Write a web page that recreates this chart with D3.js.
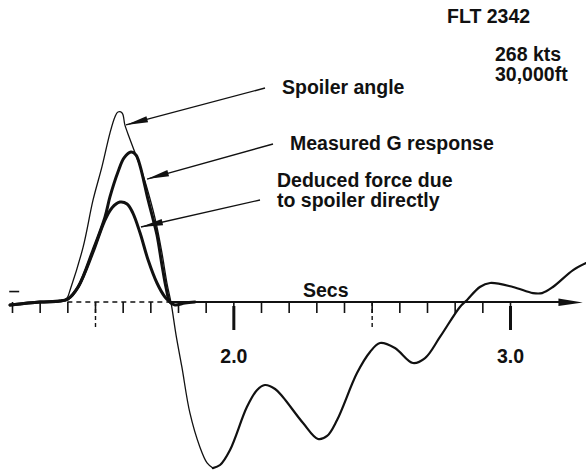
<!DOCTYPE html>
<html>
<head>
<meta charset="utf-8">
<script src="https://cdn.jsdelivr.net/npm/d3@7"></script>
<style>
  body { margin: 0; background: #fff; }
  svg { display: block; }
  .lbl { font-family: "Liberation Sans", Arial, Helvetica, sans-serif; font-weight: bold; font-size: 19.5px; fill: #111; }
</style>
</head>
<body>
<div id="chart"></div>
<script>
// time in secs, trace height normalised so spoiler peak = 1

// spoiler angle (thin trace) - rise, fall and the plunge to the first trough
const spoilerT = [1.193, 1.301, 1.381, 1.399, 1.410, 1.457, 1.493, 1.525, 1.554, 1.572, 1.583, 1.598, 1.608, 1.626, 1.645, 1.670, 1.695, 1.720, 1.742, 1.760, 1.775, 1.793, 1.814, 1.843, 1.879, 1.905, 1.926];
const spoilerV = [-0.016, 0.0, 0.005, 0.021, 0.063, 0.289, 0.537, 0.711, 0.889, 0.974, 1.0, 0.995, 0.932, 0.858, 0.784, 0.684, 0.563, 0.421, 0.258, 0.1, -0.005, -0.174, -0.342, -0.584, -0.763, -0.847, -0.874];

// the oscillation after the trough
const oscT = [1.926, 1.952, 1.988, 2.049, 2.086, 2.114, 2.151, 2.179, 2.252, 2.306, 2.339, 2.375, 2.447, 2.494, 2.530, 2.584, 2.649, 2.693, 2.747, 2.819, 2.845, 2.891, 2.928, 3.011, 3.083, 3.116, 3.155, 3.228, 3.275];
const oscV = [-0.874, -0.858, -0.779, -0.553, -0.463, -0.437, -0.458, -0.5, -0.637, -0.721, -0.705, -0.621, -0.374, -0.263, -0.216, -0.242, -0.321, -0.295, -0.184, -0.026, 0.011, 0.079, 0.1, 0.079, 0.047, 0.047, 0.079, 0.168, 0.205];

// measured G response (thick)
const measuredT = [1.193, 1.301, 1.373, 1.402, 1.439, 1.493, 1.536, 1.554, 1.583, 1.605, 1.630, 1.648, 1.663, 1.677, 1.692, 1.706, 1.724, 1.742, 1.757, 1.771, 1.789, 1.825, 1.861];
const measuredV = [-0.016, 0.0, 0.005, 0.016, 0.079, 0.274, 0.447, 0.553, 0.684, 0.758, 0.789, 0.774, 0.716, 0.632, 0.537, 0.458, 0.353, 0.195, 0.074, 0.0, -0.016, -0.005, 0.0];

// deduced force due to spoiler directly (thick)
const deducedT = [1.193, 1.301, 1.373, 1.402, 1.439, 1.493, 1.533, 1.561, 1.590, 1.616, 1.637, 1.663, 1.692, 1.724, 1.753, 1.771];
const deducedV = [-0.016, 0.0, 0.005, 0.016, 0.079, 0.263, 0.421, 0.495, 0.526, 0.516, 0.468, 0.363, 0.221, 0.1, 0.026, 0.0];

const minorTicks = [1.2, 1.3, 1.4, 1.5, 1.6, 1.7, 1.8, 1.9, 2.0, 2.1, 2.2, 2.3, 2.4, 2.5, 2.6, 2.7, 2.8, 2.9, 3.0];
const dashedTicks = [1.5, 2.5];
const majorTicks = [2.0, 3.0];
const axisLabel = "Secs";

const flightLines = ["FLT 2342"];
const conditionLines = ["268 kts", "30,000ft"];
const noteLines = [["Spoiler angle"], ["Measured G response"], ["Deduced force due", "to spoiler directly"]];
const noteTipT = [1.612, 1.688, 1.666];
const noteTipV = [0.932, 0.647, 0.395];

const width = 586, height = 474;

const svg = d3.select('#chart').append('svg')
  .attr('width', width)
  .attr('height', height);

svg.append('rect').attr('width', width).attr('height', height).attr('fill', '#fff');

const x = d3.scaleLinear().domain([1.2, 3.0]).range([12, 510]);
const y = d3.scaleLinear().domain([0, 1]).range([302, 112]);

const ink = '#111';

// axis line: dashed under the peaks, solid after, arrow at the end
svg.append('line')
  .attr('x1', x(1.40)).attr('x2', x(1.77))
  .attr('y1', y(0)).attr('y2', y(0))
  .attr('stroke', ink).attr('stroke-width', 1.5)
  .attr('stroke-dasharray', '5,4');
svg.append('line')
  .attr('x1', x(1.77)).attr('x2', x(3.2))
  .attr('y1', y(0)).attr('y2', y(0))
  .attr('stroke', ink).attr('stroke-width', 2);
svg.append('path')
  .attr('d', `M${x(3.263)},${y(0) + 0.5} L${x(3.175)},${y(0) - 3.5} L${x(3.175)},${y(0) + 4} Z`)
  .attr('fill', ink);

// small zero mark at far left
svg.append('line')
  .attr('x1', x(1.190)).attr('x2', x(1.226))
  .attr('y1', y(0.055)).attr('y2', y(0.055))
  .attr('stroke', ink).attr('stroke-width', 1.6);

// ticks
const minorAxis = d3.axisBottom(x).tickValues(minorTicks).tickSize(11).tickFormat('');
const gMinor = svg.append('g').attr('transform', `translate(0,${y(0)})`).call(minorAxis);
gMinor.select('.domain').remove();
gMinor.selectAll('.tick line').attr('stroke', ink).attr('stroke-width', 1.6);

const dashAxis = d3.axisBottom(x).tickValues(dashedTicks).tickSize(28).tickFormat('');
const gDash = svg.append('g').attr('transform', `translate(0,${y(0)})`).call(dashAxis);
gDash.select('.domain').remove();
gDash.selectAll('.tick line').attr('stroke', ink).attr('stroke-width', 1.4).attr('stroke-dasharray', '4,3');

const majorAxis = d3.axisBottom(x).tickValues(majorTicks).tickSize(28).tickPadding(19).tickFormat(d3.format('.1f'));
const gMajor = svg.append('g').attr('transform', `translate(0,${y(0)})`).call(majorAxis);
gMajor.select('.domain').remove();
gMajor.selectAll('.tick line').attr('stroke', ink).attr('stroke-width', 3).attr('y1', 4);
gMajor.selectAll('.tick text').attr('class', 'lbl').attr('fill', ink);

svg.append('text').attr('class', 'lbl').attr('x', 303).attr('y', 297).text(axisLabel);

// traces
const line = d3.line()
  .x(d => x(d[0]))
  .y(d => y(d[1]))
  .curve(d3.curveCatmullRom.alpha(0.5));

const zip = (ts, vs) => ts.map((t, i) => [t, vs[i]]);

const traces = [
  { data: zip(measuredT, measuredV), w: 3 },
  { data: zip(deducedT, deducedV), w: 3 },
  { data: zip(spoilerT, spoilerV), w: 1.3 },
  { data: zip(oscT, oscV), w: 2.2 }
];

svg.selectAll('path.trace')
  .data(traces)
  .enter()
  .append('path')
  .attr('class', 'trace')
  .attr('d', d => line(d.data))
  .attr('fill', 'none')
  .attr('stroke', ink)
  .attr('stroke-width', d => d.w)
  .attr('stroke-linejoin', 'round')
  .attr('stroke-linecap', 'round');

// header text
svg.append('text').attr('class', 'lbl').attr('x', 447).attr('y', 23).text(flightLines[0]);
conditionLines.forEach((s, i) => {
  svg.append('text').attr('class', 'lbl')
    .attr('x', 495)
    .attr('y', 61 + i * 20)
    .text(s);
});

// annotations with leader arrows
const notePos = [[282, 94], [290, 150], [277, 187]];
const noteFrom = [[265, 88], [273, 144], [260, 200]];

function arrowHead(x1, y1, x2, y2, len, half) {
  const a = Math.atan2(y2 - y1, x2 - x1);
  const bx = x2 - len * Math.cos(a), by = y2 - len * Math.sin(a);
  const px = -Math.sin(a) * half, py = Math.cos(a) * half;
  return `M${x2},${y2} L${bx + px},${by + py} L${bx - px},${by - py} Z`;
}

noteLines.forEach((lines, i) => {
  lines.forEach((s, j) => {
    svg.append('text').attr('class', 'lbl')
      .attr('x', notePos[i][0])
      .attr('y', notePos[i][1] + j * 20)
      .text(s);
  });

  const tx = x(noteTipT[i]), ty = y(noteTipV[i]);
  svg.append('line')
    .attr('x1', noteFrom[i][0]).attr('y1', noteFrom[i][1])
    .attr('x2', tx).attr('y2', ty)
    .attr('stroke', ink).attr('stroke-width', 1.4);
  svg.append('path')
    .attr('d', arrowHead(noteFrom[i][0], noteFrom[i][1], tx, ty, 22, 3.2))
    .attr('fill', ink);
});
</script>
</body>
</html>
